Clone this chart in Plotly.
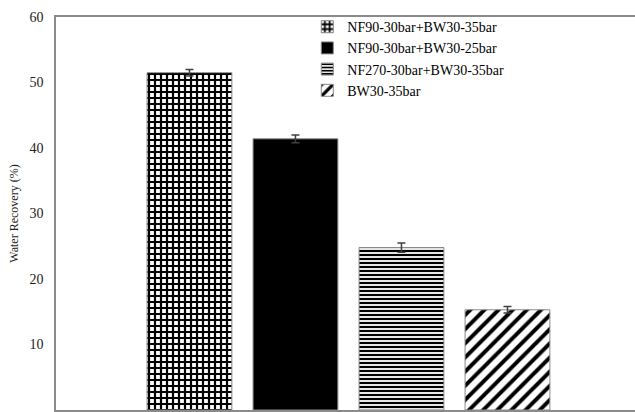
import plotly.graph_objects as go

series = ["NF90-30bar+BW30-35bar", "NF90-30bar+BW30-25bar",
          "NF270-30bar+BW30-35bar", "BW30-35bar"]
recovery = [51.5, 41.4, 24.8, 15.3]
errors = [0.5, 0.6, 0.7, 0.5]
y_ticks = [0, 10, 20, 30, 40, 50, 60]

SERIF = "Liberation Serif, Times New Roman, serif"

patterns = [
    dict(shape="+", size=6, solidity=0.6, fgcolor="black", bgcolor="white", fillmode="overlay", fgopacity=1),
    dict(shape="", fgcolor="black", bgcolor="black"),
    dict(shape="-", size=4, solidity=0.55, fgcolor="black", bgcolor="white", fillmode="overlay", fgopacity=1),
    dict(shape="/", size=10, solidity=0.4, fgcolor="black", bgcolor="white", fillmode="overlay", fgopacity=1),
]
colors = ["white", "black", "white", "white"]

fig = go.Figure()
for name, val, err, pat, col in zip(series, recovery, errors, patterns, colors):
    fig.add_trace(go.Bar(
        x=[name], y=[val], name=name, width=0.8,
        marker=dict(color=col, pattern=pat, line=dict(color="#8a8a8a", width=1)),
        error_y=dict(type="data", array=[err], color="#404040", thickness=1.5, width=4),
    ))

fig.update_layout(
    width=635, height=412,
    margin=dict(l=56, r=0, t=17, b=2),
    plot_bgcolor="white", paper_bgcolor="white",
    barmode="overlay",
    font=dict(family=SERIF, size=14, color="#222"),
    showlegend=True,
    legend=dict(x=0.434, y=1.015, xanchor="left", yanchor="top",
                font=dict(family=SERIF, size=14, color="black"),
                bgcolor="rgba(0,0,0,0)", tracegroupgap=0),
    xaxis=dict(type="category", categoryorder="array", categoryarray=series,
               range=[-1.259, 4.203], showticklabels=False, ticks="",
               showline=True, mirror=True, linecolor="#8a8a8a", linewidth=1.5,
               showgrid=False, zeroline=False, automargin=False),
    yaxis=dict(range=[0, 60], tickvals=y_ticks, ticks="", showgrid=False,
               zeroline=False, showline=True, linecolor="#8a8a8a", linewidth=1.5,
               automargin=False, ticklabelstandoff=8,
               tickfont=dict(family=SERIF, size=14, color="#222"),
               title=dict(text="Water Recovery (%)", standoff=8,
                          font=dict(family=SERIF, size=12, color="#222"))),
)

fig.write_html("out.html", config={"displayModeBar": False},
               post_script="document.body.style.margin='0';document.body.style.overflow='hidden';")
